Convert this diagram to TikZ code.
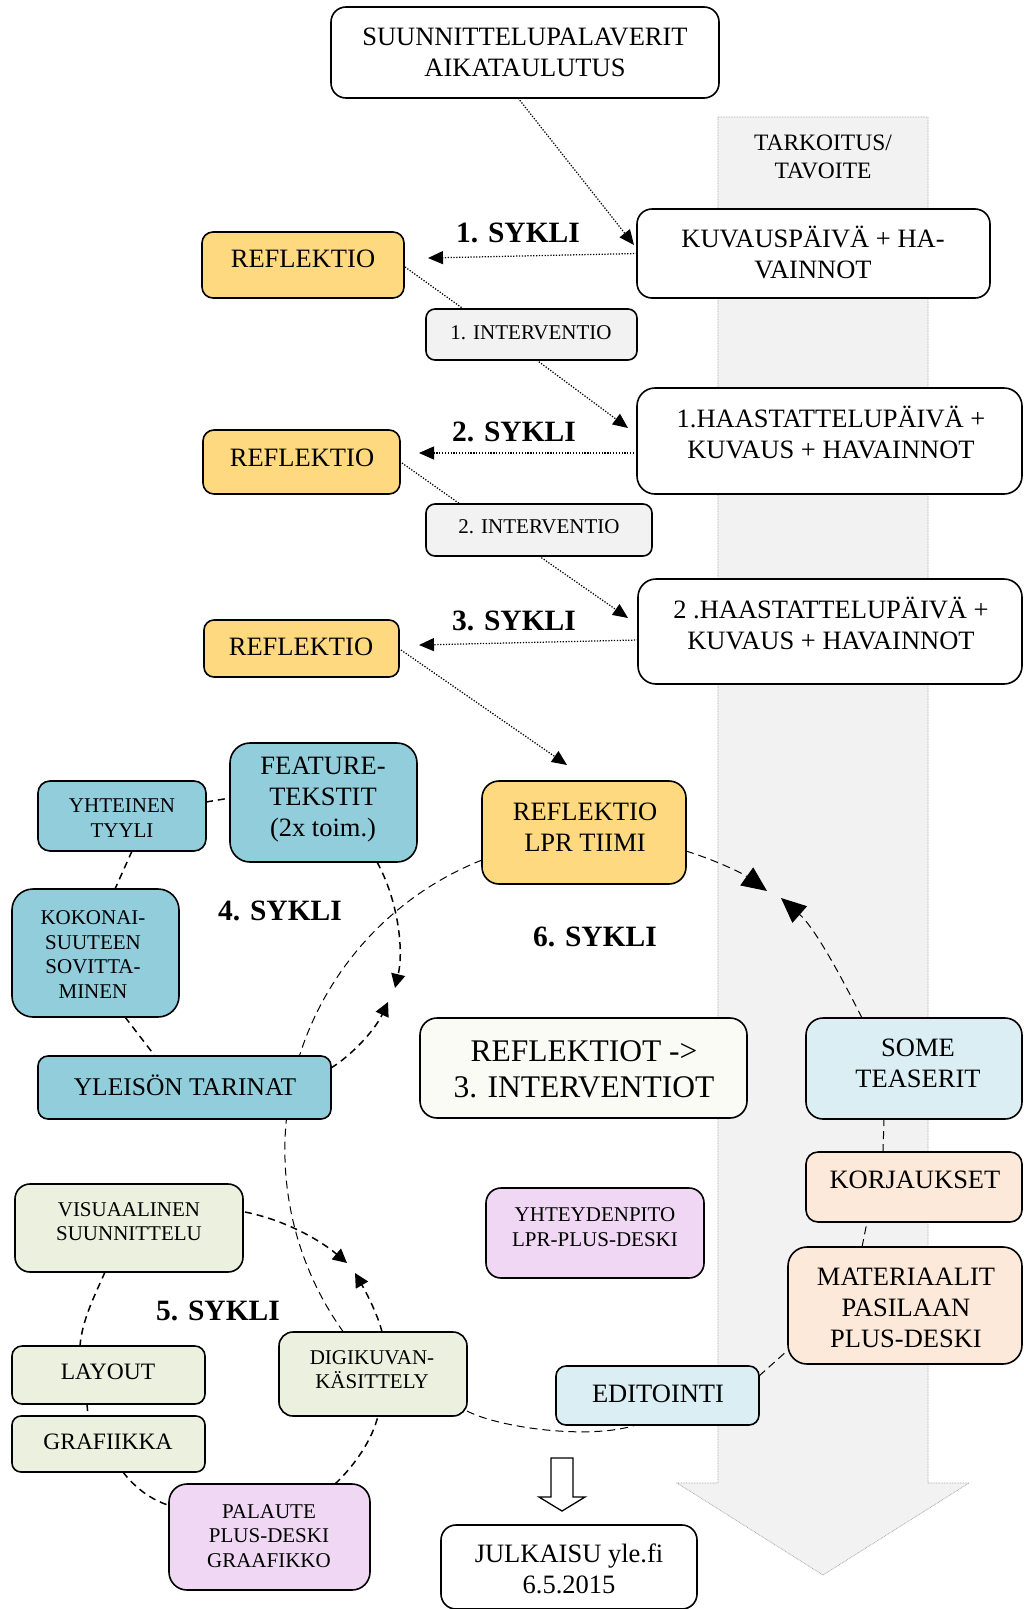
\documentclass[tikz,border=0pt]{standalone}
\usepackage{fontspec}
\setmainfont{Liberation Serif}
\usetikzlibrary{arrows.meta}
\pgfdeclarelayer{back}
\pgfdeclarelayer{conn}
\pgfsetlayers{back,conn,main}
\definecolor{cyel}{HTML}{FFD97F}
\definecolor{cgrey}{HTML}{F2F2F2}
\definecolor{cblue}{HTML}{92CDDC}
\definecolor{clblue}{HTML}{DAEEF3}
\definecolor{cpeach}{HTML}{FDE9D9}
\definecolor{cgreen}{HTML}{EBF1DE}
\definecolor{clav}{HTML}{F0D8F4}
\definecolor{coff}{HTML}{FBFBF6}
\definecolor{cband}{HTML}{F2F2F2}
\begin{document}
\begin{tikzpicture}[x=1pt,y=1pt,
  bx/.style={draw=black, line width=1.6pt, inner sep=0pt, outer sep=0pt},
  tmain/.style={font=\fontsize{26.5}{31}\selectfont, align=center, inner sep=0pt},
  tsmall/.style={font=\fontsize{21}{24.5}\selectfont, align=center, inner sep=0pt},
  tmid/.style={font=\fontsize{23.5}{28}\selectfont, align=center, inner sep=0pt},
  tbig/.style={font=\fontsize{31.5}{36}\selectfont, align=center, inner sep=0pt},
  tsyk/.style={font=\fontsize{29.5}{34}\selectfont\bfseries, inner sep=0pt},
  dotarr/.style={line width=1.25pt, dash pattern=on 1.25pt off 1.6pt, -{Triangle[length=15pt,width=13pt]}},
  dotln/.style={line width=1.25pt, dash pattern=on 1.25pt off 1.6pt},
  dthick/.style={line width=1.5pt, dash pattern=on 7pt off 5pt},
  dthin/.style={line width=1pt, dash pattern=on 8pt off 5pt},
  smhead/.style={-{Triangle[length=14pt,width=14pt]}},
  bghead/.style={-{Triangle[length=25pt,width=22pt]}},
]
\useasboundingbox (0,0) rectangle (1024,-1609);
\clip (0,0) rectangle (1024,-1609);

% big background arrow
\begin{pgfonlayer}{back}
\fill[white] (0,0) rectangle (1024,-1609);
\draw[fill=cband, draw=gray!70, line width=0.7pt, dash pattern=on 0.8pt off 0.8pt]
  (718,-117) -- (928,-117) -- (928,-1483) -- (969,-1483) -- (823,-1575)
  -- (677,-1483) -- (718,-1483) -- cycle;
\end{pgfonlayer}
\node[tmid] (tark) at (823,-157) {TARKOITUS/\\TAVOITE};

% boxes
\node[bx, fill=white, rounded corners=15pt, minimum width=388pt, minimum height=91pt] (suun) at (525,-52.5) {};
\node[bx, fill=white, rounded corners=15pt, minimum width=353pt, minimum height=89pt] (kuv) at (813.5,-253.5) {};
\node[bx, fill=white, rounded corners=18pt, minimum width=385pt, minimum height=106pt] (h1) at (829.5,-441) {};
\node[bx, fill=white, rounded corners=18pt, minimum width=384pt, minimum height=105pt] (h2) at (830,-631.5) {};
\node[bx, fill=cyel, rounded corners=11pt, minimum width=202pt, minimum height=66pt] (r1) at (303,-265) {};
\node[bx, fill=cgrey, rounded corners=9pt, minimum width=211pt, minimum height=51pt] (i1) at (531.5,-334.5) {};
\node[bx, fill=cyel, rounded corners=11pt, minimum width=197pt, minimum height=64pt] (r2) at (301.5,-462) {};
\node[bx, fill=cgrey, rounded corners=9pt, minimum width=226pt, minimum height=52pt] (i2) at (539,-530) {};
\node[bx, fill=cyel, rounded corners=10pt, minimum width=195pt, minimum height=57pt] (r3) at (301.5,-648.5) {};
\node[bx, fill=cyel, rounded corners=17pt, minimum width=204pt, minimum height=103pt] (lpr) at (584,-832.5) {};
\node[bx, fill=cblue, rounded corners=20pt, minimum width=187pt, minimum height=119pt] (feat) at (323.5,-802.5) {};
\node[bx, fill=cblue, rounded corners=12pt, minimum width=168pt, minimum height=70pt] (yht) at (122,-816) {};
\node[bx, fill=cblue, rounded corners=21pt, minimum width=167pt, minimum height=128pt] (kok) at (95.5,-953) {};
\node[bx, fill=cblue, rounded corners=10pt, minimum width=293pt, minimum height=63pt] (yle) at (184.5,-1087.5) {};
\node[bx, fill=coff, rounded corners=17pt, minimum width=327pt, minimum height=100pt] (refl) at (583.5,-1068) {};
\node[bx, fill=clblue, rounded corners=17pt, minimum width=216pt, minimum height=101pt] (some) at (914,-1068.5) {};
\node[bx, fill=cpeach, rounded corners=12pt, minimum width=216pt, minimum height=70pt] (korj) at (914,-1187) {};
\node[bx, fill=cpeach, rounded corners=19pt, minimum width=234pt, minimum height=117pt] (mat) at (905,-1305.5) {};
\node[bx, fill=clblue, rounded corners=10pt, minimum width=203pt, minimum height=59pt] (edit) at (657.5,-1395.5) {};
\node[bx, fill=clav, rounded corners=15pt, minimum width=218pt, minimum height=90pt] (yhte) at (595,-1233) {};
\node[bx, fill=cgreen, rounded corners=15pt, minimum width=228pt, minimum height=88pt] (vis) at (129,-1228) {};
\node[bx, fill=cgreen, rounded corners=10pt, minimum width=193pt, minimum height=58pt] (lay) at (108.5,-1375) {};
\node[bx, fill=cgreen, rounded corners=9pt, minimum width=193pt, minimum height=56pt] (graf) at (108.5,-1444) {};
\node[bx, fill=cgreen, rounded corners=14pt, minimum width=188pt, minimum height=84pt] (digi) at (373,-1374) {};
\node[bx, fill=clav, rounded corners=18pt, minimum width=201pt, minimum height=106pt] (pal) at (269.5,-1537) {};
\node[bx, fill=white, rounded corners=15pt, minimum width=256pt, minimum height=84pt] (jul) at (569,-1567) {};

% hollow arrow
\draw[fill=white, line width=1.3pt, line join=miter] (551,-1458) -- (573,-1458) -- (573,-1497) -- (585,-1497)
  -- (562,-1511) -- (539,-1497) -- (551,-1497) -- cycle;

% texts
\node[tmain] (suunT) at (525,-52) {SUUNNITTELUPALAVERIT\\AIKATAULUTUS};
\node[tmain] (kuvT) at (813,-252) {KUVAUSPÄIVÄ + HA-\\VAINNOT};
\node[tmain] (h1T) at (831,-432) {1.HAASTATTELUPÄIVÄ +\\KUVAUS + HAVAINNOT};
\node[tmain] (h2T) at (831,-623) {2 .HAASTATTELUPÄIVÄ +\\KUVAUS + HAVAINNOT};
\node[tmain] (r1T) at (303,-259) {REFLEKTIO};
\node[tsmall] (i1T) at (531,-333) {1. INTERVENTIO};
\node[tmain] (r2T) at (302,-458) {REFLEKTIO};
\node[tsmall] (i2T) at (539,-527) {2. INTERVENTIO};
\node[tmain] (r3T) at (301,-647) {REFLEKTIO};
\node[tmain] (lprT) at (585,-827.5) {REFLEKTIO\\LPR TIIMI};
\node[tmain] (featT) at (323,-800) {FEATURE-\\TEKSTIT\\(2x toim.)};
\node[tsmall] (yhtT) at (122,-818) {YHTEINEN\\TYYLI};
\node[tsmall] (kokT) at (93,-954.5) {KOKONAI-\\SUUTEEN\\SOVITTA-\\MINEN};
\node[tmain, font=\fontsize{25.5}{30}\selectfont] (yleT) at (185,-1085) {YLEISÖN TARINAT};
\node[tbig] (reflT) at (584,-1069) {REFLEKTIOT ->\\3. INTERVENTIOT};
\node[tmain] (someT) at (918,-1063.5) {SOME\\TEASERIT};
\node[tmain] (korjT) at (915,-1180) {KORJAUKSET};
\node[tmain] (matT) at (906,-1307.5) {MATERIAALIT\\PASILAAN\\PLUS-DESKI};
\node[tmain] (editT) at (658,-1394) {EDITOINTI};
\node[tsmall] (yhteT) at (595,-1227) {YHTEYDENPITO\\LPR-PLUS-DESKI};
\node[tsmall] (visT) at (129,-1221.5) {VISUAALINEN\\SUUNNITTELU};
\node[tmid] (layT) at (108,-1372) {LAYOUT};
\node[tmid] (grafT) at (108,-1442) {GRAFIIKKA};
\node[tsmall] (digiT) at (372,-1369.5) {DIGIKUVAN-\\KÄSITTELY};
\node[tsmall] (palT) at (269,-1536) {PALAUTE\\PLUS-DESKI\\GRAAFIKKO};
\node[tmain] (julT) at (569,-1569) {JULKAISU yle.fi\\6.5.2015};

% cycle labels
\node[tsyk] (s1) at (518,-233) {1. SYKLI};
\node[tsyk] (s2) at (514,-432) {2. SYKLI};
\node[tsyk] (s3) at (514,-621) {3. SYKLI};
\node[tsyk] (s4) at (280,-911) {4. SYKLI};
\node[tsyk] (s5) at (218,-1311) {5. SYKLI};
\node[tsyk] (s6) at (595,-937) {6. SYKLI};

% free arrow ends
\coordinate (t4a) at (395,-988);
\coordinate (t4b) at (388,-1002);
\coordinate (t5a) at (347,-1263);
\coordinate (t5b) at (355,-1273);
\coordinate (t6a) at (767,-891);
\coordinate (t6b) at (781,-898);

\begin{pgfonlayer}{conn}
% top cycles
\draw[dotarr] ([xshift=-7pt]suun.south) -- ([xshift=-3pt,yshift=8.5pt]kuv.west);
\draw[dotarr] (kuv.west) -- ([xshift=24pt,yshift=7pt]r1.east);
\draw[dotln] ([xshift=1pt,yshift=-2pt]r1.east) -- ([xshift=-68pt]i1.north);
\draw[dotarr] ([xshift=5pt]i1.south) -- ([xshift=-9pt,yshift=13pt]h1.west);
\draw[dotarr] ([yshift=-12pt]h1.west) -- ([xshift=19pt,yshift=9pt]r2.east);
\draw[dotln] ([xshift=2pt,yshift=-1pt]r2.east) -- ([xshift=-79pt]i2.north);
\draw[dotarr] (i2.south) -- ([xshift=-10pt,yshift=13.5pt]h2.west);
\draw[dotarr] ([yshift=-8.5pt]h2.west) -- ([xshift=20pt,yshift=3.5pt]r3.east);
\draw[dotarr] ([xshift=2pt,yshift=-1.5pt]r3.east) -- ([xshift=-17pt,yshift=16pt]lpr.north);
% 4. sykli
\draw[dthick] ([yshift=14pt]yht.east) -- ([yshift=4.5pt]feat.west);
\draw[dthick] ([xshift=10pt]yht.south) -- ([xshift=19.5pt]kok.north);
\draw[dthick] ([xshift=29.5pt]kok.south) -- ([xshift=-29.5pt]yle.north);
\draw[dthick,smhead] ([xshift=53.5pt]feat.south) .. controls (398,-900) and (404,-950) .. (t4a);
\draw[dthick,smhead] ([yshift=19.5pt]yle.east) .. controls (352,-1055) and (375,-1030) .. (t4b);
% 5. sykli
\draw[dthick,smhead] ([xshift=2pt,yshift=16pt]vis.east) .. controls (285,-1220) and (320,-1240) .. (t5a);
\draw[dthick,smhead] ([xshift=9pt]digi.north) .. controls (378,-1315) and (366,-1292) .. (t5b);
\draw[dthick] ([xshift=-24pt]vis.south) .. controls (95,-1295) and (82,-1320) .. ([xshift=-28.5pt]lay.north);
\draw[dthick] ([xshift=-21.5pt]lay.south) -- ([xshift=-20.5pt]graf.north);
\draw[dthick] ([xshift=14.5pt]graf.south) .. controls (135,-1488) and (152,-1500) .. ([xshift=-1pt,yshift=32pt]pal.west);
\draw[dthick] ([xshift=65.5pt]pal.north) .. controls (355,-1465) and (372,-1440) .. ([xshift=5pt]digi.south);
% 6. sykli
\draw[dthin] ([yshift=-27.5pt]lpr.west) arc[start angle=111.6, end angle=216.6, radius=312pt];
\draw[dthin] ([yshift=5pt]digi.south east) .. controls (500,-1428) and (590,-1440) .. ([xshift=-21.5pt]edit.south);
\draw[dthin] ([yshift=19.5pt]edit.east) -- ([yshift=-44.5pt]mat.west);
\draw[dthin] ([xshift=-43pt]mat.north) -- ([xshift=-47pt]korj.south);
\draw[dthin] ([xshift=-31pt]korj.north) -- ([xshift=-30pt]some.south);
\draw[dthin,bghead] ([yshift=-18.5pt]lpr.east) .. controls (715,-860) and (742,-873) .. (t6a);
\draw[dthin,bghead] ([xshift=-52pt]some.north) .. controls (842,-978) and (815,-928) .. (t6b);
\end{pgfonlayer}
\end{tikzpicture}
\end{document}
